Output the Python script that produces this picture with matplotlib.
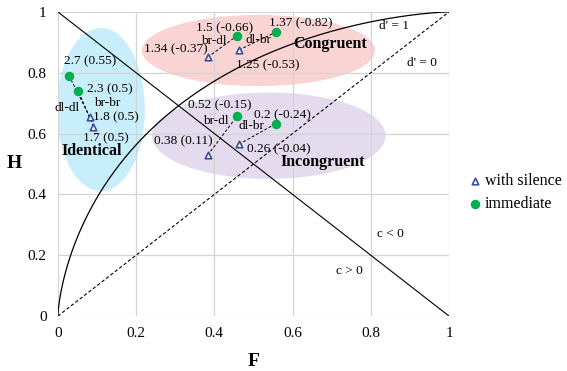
import math
import numpy as np
import matplotlib
matplotlib.use("Agg")
import matplotlib.pyplot as plt
from matplotlib.patches import Ellipse

plt.rcParams['font.family'] = ['Liberation Serif', 'DejaVu Serif']

# hit rate (H) vs false-alarm rate (F), pairs: immediate -> with silence
groups = ["Identical", "Identical", "Congruent", "Congruent", "Incongruent", "Incongruent"]
pair_names = ["dl-dl", "br-br", "br-dl", "dl-br", "br-dl", "dl-br"]
imm_F = [0.029, 0.052, 0.459, 0.557, 0.459, 0.558]
imm_H = [0.789, 0.741, 0.922, 0.933, 0.659, 0.633]
sil_F = [0.082, 0.091, 0.383, 0.463, 0.383, 0.463]
sil_H = [0.654, 0.623, 0.851, 0.875, 0.529, 0.565]
imm_labels = ["2.7 (0.55)", "2.3 (0.5)", "1.5 (-0.66)", "1.37 (-0.82)", "0.52 (-0.15)", "0.2 (-0.24)"]
sil_labels = ["1.8 (0.5)", "1.7 (0.5)", "1.34 (-0.37)", "1.25 (-0.53)", "0.38 (0.11)", "0.26 (-0.04)"]

# label placement (data coords, centred)
imm_lab_pos = [(0.082, 0.836), (0.133, 0.747), (0.425, 0.946), (0.621, 0.961), (0.415, 0.694), (0.575, 0.661)]
sil_lab_pos = [(0.148, 0.655), (0.123, 0.585), (0.301, 0.877), (0.537, 0.826), (0.322, 0.573), (0.565, 0.549)]
pair_lab_pos = [(0.023, 0.684), (0.127, 0.701), (0.400, 0.905), (0.512, 0.909), (0.405, 0.642), (0.494, 0.625)]

# group ellipses: name, centre, width, height, colour
ell_names = ["Identical", "Congruent", "Incongruent"]
ell_center = [(0.110, 0.679), (0.513, 0.873), (0.539, 0.593)]
ell_size = [(0.225, 0.536), (0.596, 0.234), (0.598, 0.284)]
ell_color = ["#c9eefb", "#fad3d3", "#e4dcee"]
ell_lab_pos = [(0.087, 0.543), (0.696, 0.894), (0.676, 0.505)]


def phi(z):
    return 0.5 * (1 + math.erf(z / math.sqrt(2)))


fig = plt.figure(figsize=(5.67, 3.71), dpi=100)
ax = fig.add_axes([0.102, 0.148, 0.690, 0.820])

for c, s, col in zip(ell_center, ell_size, ell_color):
    ax.add_patch(Ellipse(c, s[0], s[1], facecolor=col, edgecolor='none', zorder=0.2))

# d' = 1 isosensitivity curve
z = np.linspace(-6, 6, 400)
ax.plot([phi(v) for v in z], [phi(v + 1) for v in z], color='black', lw=0.9, zorder=2)
ax.plot([0, 1], [0, 1], color='black', lw=0.8, ls=(0, (3, 2)), zorder=2)
ax.plot([0, 1], [1, 0], color='black', lw=0.8, zorder=2)

for i in range(len(imm_F)):
    ax.plot([sil_F[i], imm_F[i]], [sil_H[i], imm_H[i]], color='black', lw=0.7,
            ls=(0, (3, 2)), zorder=2)

ax.scatter(sil_F, sil_H, marker='^', s=22, facecolor='white', edgecolor='#3a4f9c',
           linewidth=1.2, zorder=3, label='with silence')
ax.scatter(imm_F, imm_H, marker='o', s=34, color='#00b050', zorder=3, label='immediate')

fs = 9.6
for (x, y), t in zip(imm_lab_pos, imm_labels):
    ax.text(x, y, t, fontsize=fs, ha='center', va='center', zorder=4)
for (x, y), t in zip(sil_lab_pos, sil_labels):
    ax.text(x, y, t, fontsize=fs, ha='center', va='center', zorder=4)
for (x, y), t in zip(pair_lab_pos, pair_names):
    ax.text(x, y, t, fontsize=fs, ha='center', va='center', zorder=4)
for (x, y), t in zip(ell_lab_pos, ell_names):
    ax.text(x, y, t, fontsize=11.5, fontweight='bold', ha='center', va='center', zorder=4)

ax.text(0.859, 0.954, "d' = 1", fontsize=fs, ha='center', va='center')
ax.text(0.931, 0.832, "d' = 0", fontsize=fs, ha='center', va='center')
ax.text(0.851, 0.270, "c < 0", fontsize=fs, ha='center', va='center')
ax.text(0.744, 0.148, "c > 0", fontsize=fs, ha='center', va='center')

ax.set_xlim(0, 1)
ax.set_ylim(0, 1)
ticks = [0, 0.2, 0.4, 0.6, 0.8, 1]
tick_labels = ["0", "0.2", "0.4", "0.6", "0.8", "1"]
ax.set_xticks(ticks, tick_labels)
ax.set_yticks(ticks, tick_labels)
ax.tick_params(length=0, labelsize=11, pad=8)
ax.grid(True, color='#d4d4d4', lw=0.9, zorder=0.5)
ax.set_axisbelow(True)
for sp in ax.spines.values():
    sp.set_visible(False)
ax.set_xlabel("F", fontsize=14, fontweight='bold', labelpad=9)
ax.set_ylabel("H", fontsize=14, fontweight='bold', rotation=0, labelpad=10, va='center')

ax.legend(loc='upper left', bbox_to_anchor=(1.03, 0.49), frameon=False, fontsize=11.5,
          handletextpad=0.1, handlelength=1.0, borderaxespad=0, labelspacing=0.4)

plt.savefig("out.png", dpi=100)
